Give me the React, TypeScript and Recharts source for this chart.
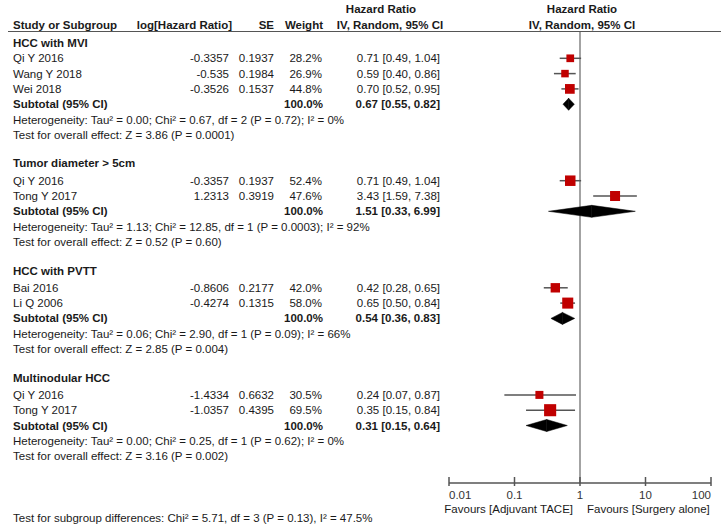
import React from 'react';
import { ScatterChart, Scatter, XAxis, YAxis, ErrorBar, ReferenceLine } from 'recharts';

const groupNames = ['HCC with MVI', 'Tumor diameter > 5cm', 'HCC with PVTT', 'Multinodular HCC'];
const studyNames = [
  ['Qi Y 2016', 'Wang Y 2018', 'Wei 2018'],
  ['Qi Y 2016', 'Tong Y 2017'],
  ['Bai 2016', 'Li Q 2006'],
  ['Qi Y 2016', 'Tong Y 2017']
];
const logHR = [['-0.3357', '-0.535', '-0.3526'], ['-0.3357', '1.2313'], ['-0.8606', '-0.4274'], ['-1.4334', '-1.0357']];
const seValues = [['0.1937', '0.1984', '0.1537'], ['0.1937', '0.3919'], ['0.2177', '0.1315'], ['0.6632', '0.4395']];
const weights = [[28.2, 26.9, 44.8], [52.4, 47.6], [42.0, 58.0], [30.5, 69.5]];
const hr = [[0.71, 0.59, 0.7], [0.71, 3.43], [0.42, 0.65], [0.24, 0.35]];
const ciLow = [[0.49, 0.4, 0.52], [0.49, 1.59], [0.28, 0.5], [0.07, 0.15]];
const ciHigh = [[1.04, 0.86, 0.95], [1.04, 7.38], [0.65, 0.84], [0.87, 0.84]];
const subHR = [0.67, 1.51, 0.54, 0.31];
const subLow = [0.55, 0.33, 0.36, 0.15];
const subHigh = [0.82, 6.99, 0.83, 0.64];
const heterogeneity = [
  'Heterogeneity: Tau² = 0.00; Chi² = 0.67, df = 2 (P = 0.72); I² = 0%',
  'Heterogeneity: Tau² = 1.13; Chi² = 12.85, df = 1 (P = 0.0003); I² = 92%',
  'Heterogeneity: Tau² = 0.06; Chi² = 2.90, df = 1 (P = 0.09); I² = 66%',
  'Heterogeneity: Tau² = 0.00; Chi² = 0.25, df = 1 (P = 0.62); I² = 0%'
];
const overallEffect = [
  'Test for overall effect: Z = 3.86 (P = 0.0001)',
  'Test for overall effect: Z = 0.52 (P = 0.60)',
  'Test for overall effect: Z = 2.85 (P = 0.004)',
  'Test for overall effect: Z = 3.16 (P = 0.002)'
];
const subgroupTest = 'Test for subgroup differences: Chi² = 5.71, df = 3 (P = 0.13), I² = 47.5%';
const xTicks = [0.01, 0.1, 1, 10, 100];

const W = 724;
const H = 524;
const ROW0 = 43;
const ROW_H = 15.3;
const PLOT_TOP = 31;
const PLOT_BOTTOM = 483;
const rowY = (i: number) => ROW0 + i * ROW_H;
const fmt = (v: number) => v.toFixed(2);

// lay out the rows: header, studies, subtotal, heterogeneity, overall effect, blank
type Row = { kind: string; idx: number; g: number; s: number };
const rows: Row[] = [];
let idx = 0;
groupNames.forEach((_, g) => {
  rows.push({ kind: 'group', idx: idx++, g, s: -1 });
  studyNames[g].forEach((__, s) => rows.push({ kind: 'study', idx: idx++, g, s }));
  rows.push({ kind: 'subtotal', idx: idx++, g, s: -1 });
  rows.push({ kind: 'het', idx: idx++, g, s: -1 });
  rows.push({ kind: 'test', idx: idx++, g, s: -1 });
  idx++;
});

const points = rows
  .filter((r) => r.kind === 'study')
  .map((r) => {
    const v = hr[r.g][r.s];
    return { x: v, y: r.idx, err: [v - ciLow[r.g][r.s], ciHigh[r.g][r.s] - v], w: weights[r.g][r.s] };
  });

const subRows = rows.filter((r) => r.kind === 'subtotal');

const Txt = ({ x, y, children, anchor = 'start', bold = false }: any) => {
  const style: React.CSSProperties = {
    position: 'absolute',
    top: y - 7,
    lineHeight: '14px',
    whiteSpace: 'nowrap',
    fontWeight: bold ? 'bold' : 'normal'
  };
  if (anchor === 'end') style.right = W - x;
  else if (anchor === 'middle') {
    style.left = x;
    style.transform = 'translateX(-50%)';
  } else style.left = x;
  return <div style={style}>{children}</div>;
};

const Square = (props: any) => {
  const { cx, cy, payload } = props;
  const s = 1.45 * Math.sqrt(payload.w);
  return <rect x={cx - s / 2} y={cy - s / 2} width={s} height={s} fill="#c00000" />;
};

const halfDiamond = (left: boolean) => (props: any) => {
  const { x1, y1, x2 } = props;
  const h = 6;
  const pts = left
    ? `${x1},${y1} ${x2},${y1 - h} ${x2},${y1 + h}`
    : `${x1},${y1 - h} ${x2},${y1} ${x1},${y1 + h}`;
  return <polygon points={pts} fill="#000" stroke="#000" strokeWidth={0.5} />;
};

const AxisTick = (props: any) => {
  const { x, y, payload } = props;
  const v = payload.value;
  const anchor = v === xTicks[0] ? 'start' : v === xTicks[xTicks.length - 1] ? 'end' : 'middle';
  return (
    <g>
      <line x1={x} x2={x} y1={y - 6} y2={y + 3} stroke="#555" strokeWidth={1.5} />
      <text x={x} y={y + 16} textAnchor={anchor} fontSize={11.5} fill="#333" fontFamily="'Liberation Sans', Arial, sans-serif">
        {String(v)}
      </text>
    </g>
  );
};

const App = () => {
  return (
    <div
      style={{
        position: 'absolute',
        left: 0,
        top: 0,
        width: W,
        height: H,
        overflow: 'hidden',
        background: '#fff',
        fontFamily: "'Liberation Sans', Arial, sans-serif",
        fontSize: 11.5,
        color: '#1a1a1a'
      }}
    >
      <ScatterChart width={W} height={H} margin={{ top: PLOT_TOP, right: 13, bottom: 11, left: 449 }}>
        <XAxis
          dataKey="x"
          type="number"
          scale="log"
          domain={[0.01, 100]}
          ticks={xTicks}
          allowDataOverflow
          height={H - 11 - PLOT_BOTTOM}
          axisLine={{ stroke: '#555', strokeWidth: 1.5 }}
          tickLine={false}
          tickSize={0}
          tickMargin={0}
          tick={<AxisTick />}
        />
        <YAxis
          dataKey="y"
          type="number"
          hide
          reversed
          allowDataOverflow
          domain={[(PLOT_TOP - ROW0) / ROW_H, (PLOT_BOTTOM - ROW0) / ROW_H]}
        />
        <ReferenceLine x={1} stroke="#666" strokeWidth={1.2} />
        {subRows.map((r) => (
          <ReferenceLine
            key={'l' + r.g}
            segment={[{ x: subLow[r.g], y: r.idx }, { x: subHR[r.g], y: r.idx }]}
            shape={halfDiamond(true)}
          />
        ))}
        {subRows.map((r) => (
          <ReferenceLine
            key={'r' + r.g}
            segment={[{ x: subHR[r.g], y: r.idx }, { x: subHigh[r.g], y: r.idx }]}
            shape={halfDiamond(false)}
          />
        ))}
        <Scatter data={points} shape={<Square />} isAnimationActive={false}>
          <ErrorBar dataKey="err" direction="x" width={0} stroke="#555" strokeWidth={1.5} />
        </Scatter>
      </ScatterChart>

      <div style={{ position: 'absolute', left: 0, top: 0, width: W, height: H, pointerEvents: 'none' }}>
        <div style={{ position: 'absolute', left: 8, width: 713, top: PLOT_TOP, borderTop: '1px solid #555' }} />
        <Txt x={381} y={9} anchor="middle" bold>Hazard Ratio</Txt>
        <Txt x={582} y={9} anchor="middle" bold>Hazard Ratio</Txt>
        <Txt x={13} y={25} bold>Study or Subgroup</Txt>
        <Txt x={232} y={25} anchor="end" bold>log[Hazard Ratio]</Txt>
        <Txt x={274} y={25} anchor="end" bold>SE</Txt>
        <Txt x={323} y={25} anchor="end" bold>Weight</Txt>
        <Txt x={390} y={25} anchor="middle" bold>IV, Random, 95% CI</Txt>
        <Txt x={582} y={25} anchor="middle" bold>IV, Random, 95% CI</Txt>

        {rows.map((r) => {
          const y = rowY(r.idx);
          const k = r.kind + r.idx;
          if (r.kind === 'group')
            return <Txt key={k} x={13} y={y - (r.g > 0 ? 2 : 0)} bold>{groupNames[r.g]}</Txt>;
          if (r.kind === 'study')
            return (
              <React.Fragment key={k}>
                <Txt x={13} y={y}>{studyNames[r.g][r.s]}</Txt>
                <Txt x={229} y={y} anchor="end">{logHR[r.g][r.s]}</Txt>
                <Txt x={274} y={y} anchor="end">{seValues[r.g][r.s]}</Txt>
                <Txt x={322} y={y} anchor="end">{weights[r.g][r.s].toFixed(1)}%</Txt>
                <Txt x={440} y={y} anchor="end">
                  {fmt(hr[r.g][r.s])} [{fmt(ciLow[r.g][r.s])}, {fmt(ciHigh[r.g][r.s])}]
                </Txt>
              </React.Fragment>
            );
          if (r.kind === 'subtotal')
            return (
              <React.Fragment key={k}>
                <Txt x={13} y={y} bold>Subtotal (95% CI)</Txt>
                <Txt x={323} y={y} anchor="end" bold>100.0%</Txt>
                <Txt x={440} y={y} anchor="end" bold>
                  {fmt(subHR[r.g])} [{fmt(subLow[r.g])}, {fmt(subHigh[r.g])}]
                </Txt>
              </React.Fragment>
            );
          if (r.kind === 'het') return <Txt key={k} x={13} y={y}>{heterogeneity[r.g]}</Txt>;
          return <Txt key={k} x={13} y={y}>{overallEffect[r.g]}</Txt>;
        })}

        <Txt x={573} y={509} anchor="end">Favours [Adjuvant TACE]</Txt>
        <Txt x={587} y={509}>Favours [Surgery alone]</Txt>
        <Txt x={13} y={518}>{subgroupTest}</Txt>
      </div>
    </div>
  );
};

export default App;
